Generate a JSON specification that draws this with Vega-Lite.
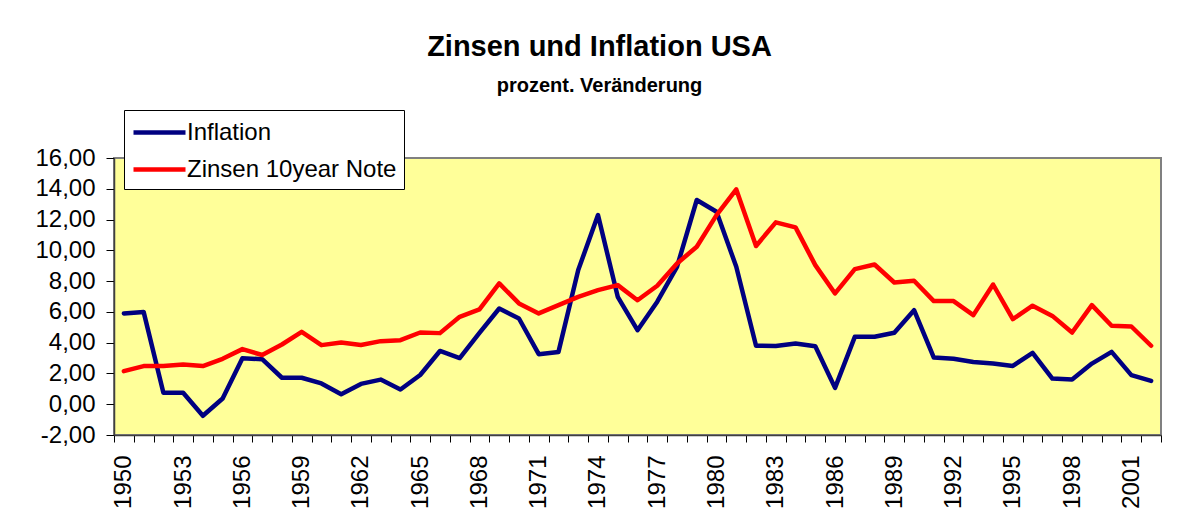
{
  "$schema": "https://vega.github.io/schema/vega-lite/v6.json",
  "autosize": "none",
  "width": 1047,
  "height": 277,
  "padding": {"left": 114, "top": 158, "right": 26, "bottom": 94},
  "background": "white",
  "title": {
    "text": "Zinsen und Inflation USA",
    "subtitle": "prozent. Veränderung",
    "anchor": "middle",
    "frame": "group",
    "dx": -38,
    "offset": 14,
    "subtitlePadding": 14,
    "font": "Liberation Sans",
    "subtitleFont": "Liberation Sans",
    "fontSize": 29,
    "subtitleFontSize": 20,
    "fontWeight": "bold",
    "subtitleFontWeight": "bold",
    "color": "black",
    "subtitleColor": "black"
  },
  "data": {
    "values": [
      {"year": 1950, "Inflation": 5.9, "Zinsen 10year Note": 2.15},
      {"year": 1951, "Inflation": 6.0, "Zinsen 10year Note": 2.48},
      {"year": 1952, "Inflation": 0.75, "Zinsen 10year Note": 2.48},
      {"year": 1953, "Inflation": 0.75, "Zinsen 10year Note": 2.58},
      {"year": 1954, "Inflation": -0.75, "Zinsen 10year Note": 2.48},
      {"year": 1955, "Inflation": 0.37, "Zinsen 10year Note": 2.95},
      {"year": 1956, "Inflation": 2.98, "Zinsen 10year Note": 3.58},
      {"year": 1957, "Inflation": 2.93, "Zinsen 10year Note": 3.2},
      {"year": 1958, "Inflation": 1.72, "Zinsen 10year Note": 3.88},
      {"year": 1959, "Inflation": 1.72, "Zinsen 10year Note": 4.7},
      {"year": 1960, "Inflation": 1.35, "Zinsen 10year Note": 3.84},
      {"year": 1961, "Inflation": 0.65, "Zinsen 10year Note": 4.01},
      {"year": 1962, "Inflation": 1.32, "Zinsen 10year Note": 3.85},
      {"year": 1963, "Inflation": 1.6, "Zinsen 10year Note": 4.1},
      {"year": 1964, "Inflation": 0.96, "Zinsen 10year Note": 4.16},
      {"year": 1965, "Inflation": 1.9, "Zinsen 10year Note": 4.66},
      {"year": 1966, "Inflation": 3.46, "Zinsen 10year Note": 4.62},
      {"year": 1967, "Inflation": 3.0, "Zinsen 10year Note": 5.68},
      {"year": 1968, "Inflation": 4.64, "Zinsen 10year Note": 6.16},
      {"year": 1969, "Inflation": 6.22, "Zinsen 10year Note": 7.85},
      {"year": 1970, "Inflation": 5.57, "Zinsen 10year Note": 6.55},
      {"year": 1971, "Inflation": 3.25, "Zinsen 10year Note": 5.9},
      {"year": 1972, "Inflation": 3.4, "Zinsen 10year Note": 6.44},
      {"year": 1973, "Inflation": 8.72, "Zinsen 10year Note": 6.98},
      {"year": 1974, "Inflation": 12.29, "Zinsen 10year Note": 7.41},
      {"year": 1975, "Inflation": 6.98, "Zinsen 10year Note": 7.74},
      {"year": 1976, "Inflation": 4.81, "Zinsen 10year Note": 6.76},
      {"year": 1977, "Inflation": 6.66, "Zinsen 10year Note": 7.7},
      {"year": 1978, "Inflation": 8.93, "Zinsen 10year Note": 9.15},
      {"year": 1979, "Inflation": 13.27, "Zinsen 10year Note": 10.23},
      {"year": 1980, "Inflation": 12.51, "Zinsen 10year Note": 12.29},
      {"year": 1981, "Inflation": 8.93, "Zinsen 10year Note": 13.96},
      {"year": 1982, "Inflation": 3.8, "Zinsen 10year Note": 10.28},
      {"year": 1983, "Inflation": 3.79, "Zinsen 10year Note": 11.82},
      {"year": 1984, "Inflation": 3.94, "Zinsen 10year Note": 11.49},
      {"year": 1985, "Inflation": 3.77, "Zinsen 10year Note": 9.04},
      {"year": 1986, "Inflation": 1.06, "Zinsen 10year Note": 7.2},
      {"year": 1987, "Inflation": 4.38, "Zinsen 10year Note": 8.78},
      {"year": 1988, "Inflation": 4.38, "Zinsen 10year Note": 9.08},
      {"year": 1989, "Inflation": 4.64, "Zinsen 10year Note": 7.91},
      {"year": 1990, "Inflation": 6.11, "Zinsen 10year Note": 8.02},
      {"year": 1991, "Inflation": 3.03, "Zinsen 10year Note": 6.7},
      {"year": 1992, "Inflation": 2.95, "Zinsen 10year Note": 6.7},
      {"year": 1993, "Inflation": 2.75, "Zinsen 10year Note": 5.79},
      {"year": 1994, "Inflation": 2.65, "Zinsen 10year Note": 7.78},
      {"year": 1995, "Inflation": 2.49, "Zinsen 10year Note": 5.53},
      {"year": 1996, "Inflation": 3.34, "Zinsen 10year Note": 6.4},
      {"year": 1997, "Inflation": 1.67, "Zinsen 10year Note": 5.74},
      {"year": 1998, "Inflation": 1.61, "Zinsen 10year Note": 4.66},
      {"year": 1999, "Inflation": 2.64, "Zinsen 10year Note": 6.44},
      {"year": 2000, "Inflation": 3.4, "Zinsen 10year Note": 5.1},
      {"year": 2001, "Inflation": 1.89, "Zinsen 10year Note": 5.05},
      {"year": 2002, "Inflation": 1.52, "Zinsen 10year Note": 3.8}
    ]
  },
  "transform": [
    {"fold": ["Inflation", "Zinsen 10year Note"], "as": ["series", "value"]}
  ],
  "mark": {"type": "line", "strokeWidth": 4.5, "strokeJoin": "round", "strokeCap": "round"},
  "encoding": {
    "x": {
      "field": "year",
      "type": "ordinal",
      "scale": {"paddingInner": 0, "paddingOuter": 0},
      "axis": {
        "title": null,
        "labelAngle": -90,
        "labelExpr": "(datum.value - 1950) % 3 == 0 ? datum.value : ''",
        "labelOverlap": false,
        "tickBand": "extent",
        "tickSize": 7,
        "tickColor": "black",
        "domainColor": "#404040",
        "domainWidth": 1.5,
        "labelPadding": 13,
        "labelFont": "Liberation Sans",
        "labelFontSize": 24,
        "labelColor": "black",
        "grid": false
      }
    },
    "y": {
      "field": "value",
      "type": "quantitative",
      "scale": {"domain": [-2, 16], "nice": false, "zero": false},
      "axis": {
        "title": null,
        "values": [-2, 0, 2, 4, 6, 8, 10, 12, 14, 16],
        "format": ".2f",
        "tickSize": 8,
        "tickColor": "black",
        "domainColor": "#404040",
        "domainWidth": 1.5,
        "labelPadding": 11,
        "labelFont": "Liberation Sans",
        "labelFontSize": 24,
        "labelColor": "black",
        "grid": false
      }
    },
    "color": {
      "field": "series",
      "type": "nominal",
      "scale": {"domain": ["Inflation", "Zinsen 10year Note"], "range": ["#000080", "#FF0000"]},
      "legend": {
        "title": null,
        "orient": "none",
        "legendX": 10,
        "legendY": -48,
        "fillColor": "white",
        "strokeColor": "black",
        "padding": 7,
        "symbolType": "M-2,0H2",
        "symbolSize": 676,
        "symbolStrokeWidth": 4.5,
        "symbolOffset": 13,
        "labelOffset": 12,
        "rowPadding": 9,
        "labelFont": "Liberation Sans",
        "labelFontSize": 24,
        "labelColor": "black",
        "labelLimit": 0
      }
    }
  },
  "config": {
    "locale": {"number": {"decimal": ",", "thousands": ".", "grouping": [3], "currency": ["", " €"], "minus": "-"}},
    "view": {"fill": "#FFFF99", "stroke": "#808080", "strokeWidth": 2}
  }
}
